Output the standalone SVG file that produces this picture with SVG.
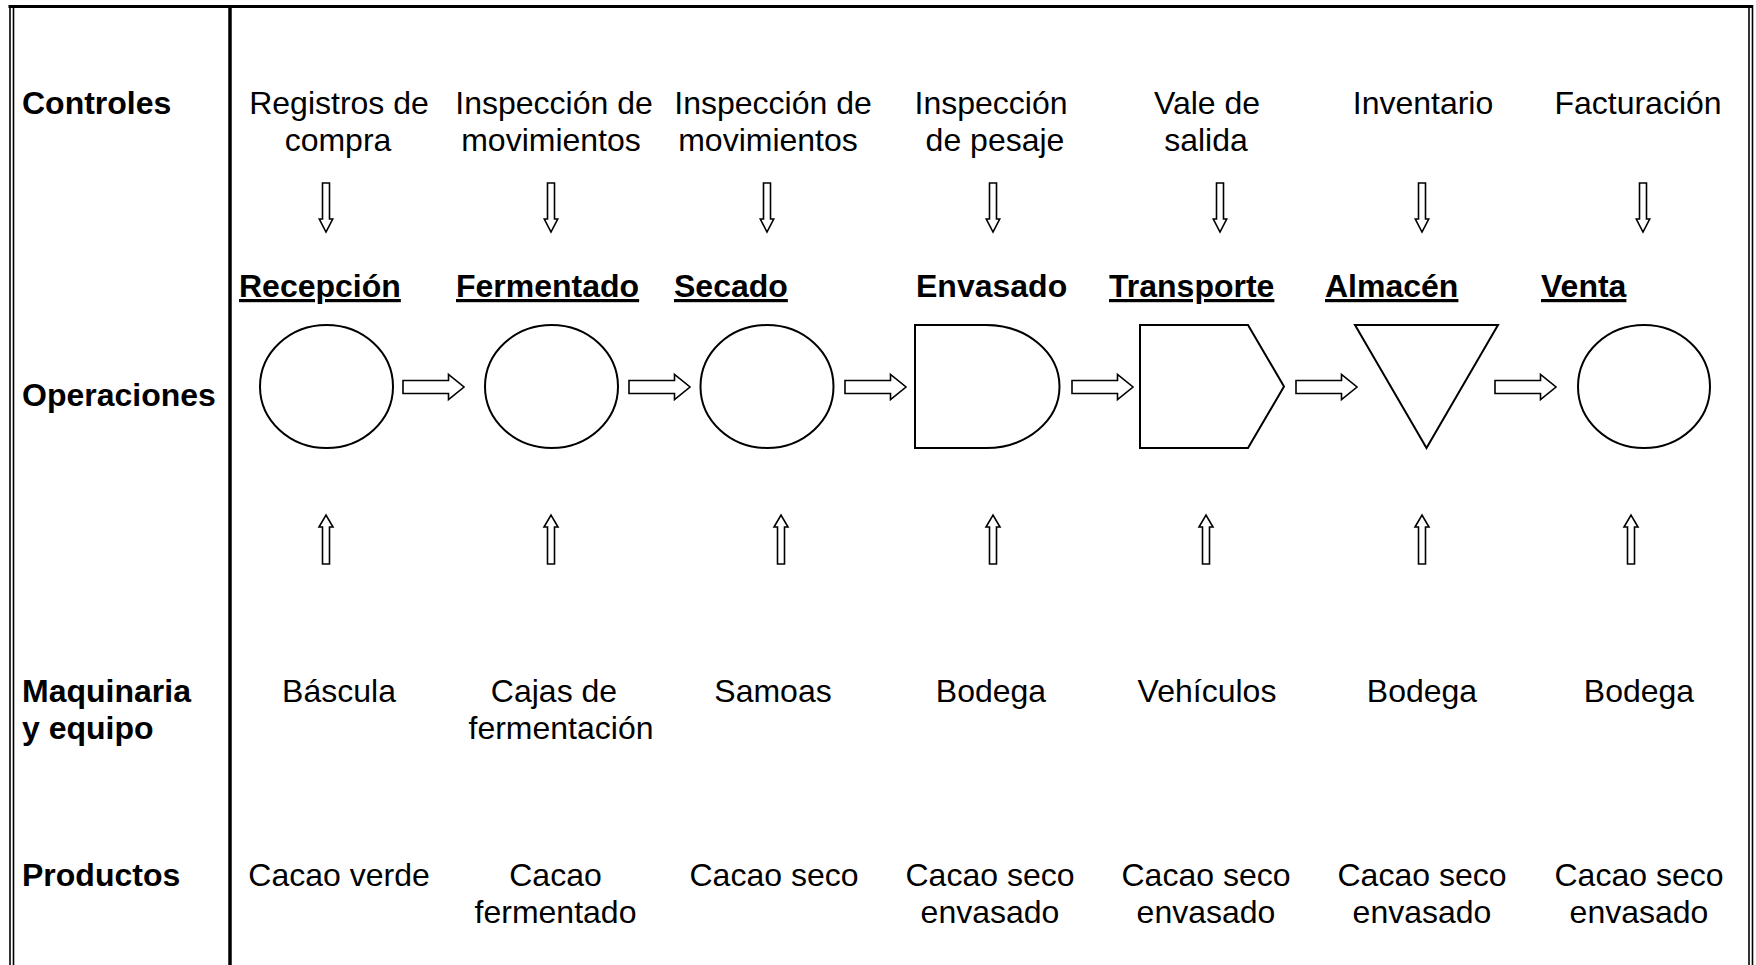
<svg xmlns="http://www.w3.org/2000/svg" xmlns:xlink="http://www.w3.org/1999/xlink" width="1756" height="965" viewBox="0 0 1756 965">
<style>
.t{font-family:"Liberation Sans",Arial,sans-serif;font-size:32px;fill:#000;text-anchor:middle}
.h{font-family:"Liberation Sans",Arial,sans-serif;font-size:32px;font-weight:bold;fill:#000}
.u{text-decoration:underline}
.s{fill:#fff;stroke:#000;stroke-width:2}
.a{fill:#fff;stroke:#000;stroke-width:1.6;stroke-linejoin:miter}
.b{stroke:#000;fill:none}
</style>
<defs>
<path id="dn" d="M-3.5,183 V219 H-6.7 L0,232 L6.7,219 H3.5 V183 Z"/>
<path id="up" d="M-3.5,564 V527 H-7 L0,515 L7,527 H3.5 V564 Z"/>
<path id="rt" d="M0,380.5 H45.5 V374.5 L61,387 L45.5,399.5 V393.5 H0 Z"/>
</defs>
<rect width="1756" height="965" fill="#fff"/>
<g id="frame">
<line class="b" x1="8.5" y1="6.5" x2="1753" y2="6.5" stroke-width="3"/>
<line class="b" x1="10" y1="5" x2="10" y2="965" stroke-width="1.6"/>
<line class="b" x1="13.5" y1="8" x2="13.5" y2="965" stroke-width="1.6"/>
<line class="b" x1="230" y1="5" x2="230" y2="965" stroke-width="3.5"/>
<line class="b" x1="1749" y1="8" x2="1749" y2="965" stroke-width="1.6"/>
<line class="b" x1="1752.5" y1="5" x2="1752.5" y2="965" stroke-width="1.6"/>
</g>
<g id="row-headers">
<text class="h" x="22" y="113.5">Controles</text>
<text class="h" x="22" y="406">Operaciones</text>
<text class="h" x="22" y="702">Maquinaria</text>
<text class="h" x="22" y="739">y equipo</text>
<text class="h" x="22" y="886">Productos</text>
</g>
<g id="controles">
<text class="t" x="339" y="113.5">Registros de</text><text class="t" x="338" y="150.5">compra</text>
<text class="t" x="554" y="113.5">Inspección de</text><text class="t" x="551" y="150.5">movimientos</text>
<text class="t" x="773" y="113.5">Inspección de</text><text class="t" x="768" y="150.5">movimientos</text>
<text class="t" x="991" y="113.5">Inspección</text><text class="t" x="995" y="150.5">de pesaje</text>
<text class="t" x="1207" y="113.5">Vale de</text><text class="t" x="1206" y="150.5">salida</text>
<text class="t" x="1423" y="113.5">Inventario</text>
<text class="t" x="1638" y="113.5">Facturación</text>
</g>
<g id="recepcion">
<text class="h u" x="239" y="297">Recepción</text>
<ellipse class="s" cx="326.5" cy="386.5" rx="66.5" ry="61.5"/>
</g>
<g id="fermentado">
<text class="h u" x="456" y="297">Fermentado</text>
<ellipse class="s" cx="551.5" cy="386.5" rx="66.5" ry="61.5"/>
</g>
<g id="secado">
<text class="h u" x="674" y="297">Secado</text>
<ellipse class="s" cx="767" cy="386.5" rx="66.5" ry="61.5"/>
</g>
<g id="envasado">
<text class="h" x="916" y="297">Envasado</text>
<path class="s" d="M915,325 H986 A73.5,61.5 0 0 1 986,448 H915 Z"/>
</g>
<g id="transporte">
<text class="h u" x="1109" y="297">Transporte</text>
<polygon class="s" points="1140,325 1248,325 1284,386.5 1248,448 1140,448"/>
</g>
<g id="almacen">
<text class="h u" x="1325" y="297">Almacén</text>
<polygon class="s" points="1355,325 1498,325 1426.5,448"/>
</g>
<g id="venta">
<text class="h u" x="1541" y="297">Venta</text>
<ellipse class="s" cx="1644" cy="386.5" rx="66" ry="61.5"/>
</g>
<g id="maquinaria">
<text class="t" x="339" y="702">Báscula</text>
<text class="t" x="554" y="702">Cajas de</text><text class="t" x="561" y="739">fermentación</text>
<text class="t" x="773" y="702">Samoas</text>
<text class="t" x="991" y="702">Bodega</text>
<text class="t" x="1207" y="702">Vehículos</text>
<text class="t" x="1422" y="702">Bodega</text>
<text class="t" x="1639" y="702">Bodega</text>
</g>
<g id="productos">
<text class="t" x="339" y="886">Cacao verde</text>
<text class="t" x="555.5" y="886">Cacao</text><text class="t" x="555.5" y="923">fermentado</text>
<text class="t" x="774" y="886">Cacao seco</text>
<text class="t" x="990" y="886">Cacao seco</text><text class="t" x="990" y="923">envasado</text>
<text class="t" x="1206" y="886">Cacao seco</text><text class="t" x="1206" y="923">envasado</text>
<text class="t" x="1422" y="886">Cacao seco</text><text class="t" x="1422" y="923">envasado</text>
<text class="t" x="1639" y="886">Cacao seco</text><text class="t" x="1639" y="923">envasado</text>
</g>
<g id="connectors">
<use class="a" xlink:href="#dn" href="#dn" x="326"/>
<use class="a" xlink:href="#dn" href="#dn" x="551"/>
<use class="a" xlink:href="#dn" href="#dn" x="767"/>
<use class="a" xlink:href="#dn" href="#dn" x="993"/>
<use class="a" xlink:href="#dn" href="#dn" x="1220"/>
<use class="a" xlink:href="#dn" href="#dn" x="1422"/>
<use class="a" xlink:href="#dn" href="#dn" x="1643"/>
<use class="a" xlink:href="#rt" href="#rt" x="403"/>
<use class="a" xlink:href="#rt" href="#rt" x="629"/>
<use class="a" xlink:href="#rt" href="#rt" x="845"/>
<use class="a" xlink:href="#rt" href="#rt" x="1072"/>
<use class="a" xlink:href="#rt" href="#rt" x="1296"/>
<use class="a" xlink:href="#rt" href="#rt" x="1495"/>
<use class="a" xlink:href="#up" href="#up" x="326"/>
<use class="a" xlink:href="#up" href="#up" x="551"/>
<use class="a" xlink:href="#up" href="#up" x="781"/>
<use class="a" xlink:href="#up" href="#up" x="993"/>
<use class="a" xlink:href="#up" href="#up" x="1206"/>
<use class="a" xlink:href="#up" href="#up" x="1422"/>
<use class="a" xlink:href="#up" href="#up" x="1631"/>
</g>
</svg>
